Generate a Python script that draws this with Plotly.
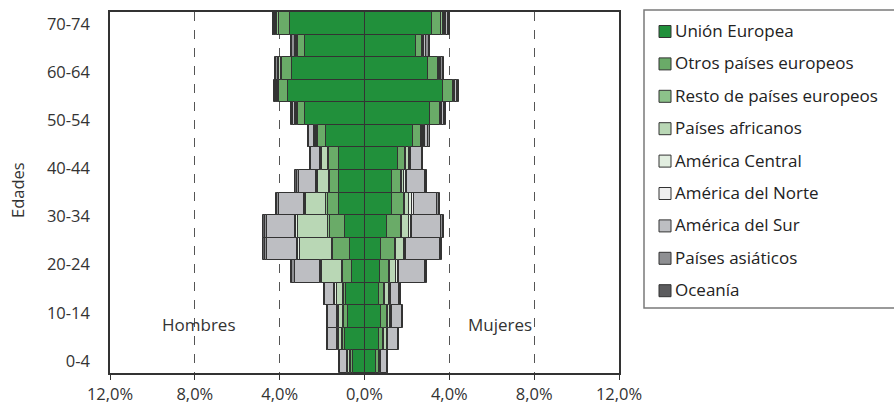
import plotly.graph_objects as go

# Age groups (bottom to top)
edades = ["0-4", "5-9", "10-14", "15-19", "20-24", "25-29", "30-34", "35-39",
          "40-44", "45-49", "50-54", "55-59", "60-64", "65-69", "70-74", "75 y más"]

origenes = ["Unión Europea", "Otros países europeos", "Resto de países europeos",
            "Países africanos", "América Central", "América del Norte",
            "América del Sur", "Países asiáticos", "Oceanía"]

colores = ["#21903b", "#6aab68", "#8cc28a", "#b9d7b5", "#e2eee0",
           "#efefef", "#bdbec2", "#8e8f92", "#5c5c5e"]

# Share of total population (%), men, by origin; one value per age group
hombres = {
    "Unión Europea":            [0.52, 0.91, 0.78, 0.85, 0.60, 0.68, 0.94, 1.22, 1.22, 1.22, 1.83, 2.82, 3.62, 3.43, 2.82, 3.52],
    "Otros países europeos":    [0.11, 0.12, 0.20, 0.12, 0.42, 0.81, 0.70, 0.52, 0.40, 0.44, 0.34, 0.31, 0.42, 0.45, 0.31, 0.52],
    "Resto de países europeos": [0.04, 0.04, 0.05, 0.05, 0.04, 0.04, 0.08, 0.06, 0.06, 0.04, 0.05, 0.05, 0.03, 0.05, 0.05, 0.10],
    "Países africanos":         [0.10, 0.12, 0.15, 0.28, 0.94, 1.53, 1.40, 0.95, 0.50, 0.32, 0.08, 0.05, 0.04, 0.08, 0.03, 0.05],
    "América Central":          [0.03, 0.05, 0.06, 0.08, 0.06, 0.06, 0.10, 0.05, 0.06, 0.04, 0.05, 0.02, 0.02, 0.02, 0.02, 0.02],
    "América del Norte":        [0.02, 0.04, 0.04, 0.06, 0.04, 0.04, 0.04, 0.04, 0.03, 0.02, 0.03, 0.02, 0.02, 0.02, 0.02, 0.02],
    "América del Sur":          [0.33, 0.42, 0.44, 0.40, 1.20, 1.45, 1.33, 1.17, 0.80, 0.42, 0.22, 0.10, 0.05, 0.05, 0.05, 0.05],
    "Países asiáticos":         [0.02, 0.05, 0.03, 0.05, 0.10, 0.10, 0.12, 0.10, 0.12, 0.05, 0.05, 0.06, 0.04, 0.05, 0.10, 0.03],
    "Oceanía":                  [0.01, 0.02, 0.02, 0.03, 0.06, 0.06, 0.06, 0.04, 0.07, 0.03, 0.03, 0.03, 0.04, 0.05, 0.05, 0.02],
}

# Share of total population (%), women, by origin
mujeres = {
    "Unión Europea":            [0.53, 0.69, 0.80, 0.69, 0.73, 0.80, 1.08, 1.31, 1.31, 1.59, 2.30, 3.11, 3.70, 3.00, 2.41, 3.19],
    "Otros países europeos":    [0.14, 0.20, 0.25, 0.23, 0.42, 0.64, 0.63, 0.55, 0.42, 0.34, 0.38, 0.44, 0.47, 0.45, 0.31, 0.42],
    "Resto de países europeos": [0.03, 0.04, 0.04, 0.04, 0.06, 0.06, 0.06, 0.05, 0.06, 0.05, 0.04, 0.04, 0.05, 0.05, 0.03, 0.10],
    "Países africanos":         [0.05, 0.12, 0.12, 0.20, 0.27, 0.34, 0.31, 0.20, 0.08, 0.12, 0.05, 0.04, 0.03, 0.03, 0.03, 0.05],
    "América Central":          [0.02, 0.04, 0.04, 0.04, 0.08, 0.08, 0.10, 0.12, 0.08, 0.06, 0.03, 0.02, 0.02, 0.02, 0.02, 0.05],
    "América del Norte":        [0.01, 0.03, 0.03, 0.03, 0.06, 0.06, 0.06, 0.10, 0.06, 0.04, 0.03, 0.02, 0.02, 0.02, 0.02, 0.05],
    "América del Sur":          [0.30, 0.45, 0.48, 0.42, 1.25, 1.56, 1.36, 1.10, 0.86, 0.50, 0.16, 0.08, 0.05, 0.06, 0.08, 0.08],
    "Países asiáticos":         [0.02, 0.02, 0.02, 0.03, 0.05, 0.06, 0.08, 0.10, 0.04, 0.05, 0.08, 0.06, 0.06, 0.06, 0.12, 0.05],
    "Oceanía":                  [0.01, 0.02, 0.02, 0.02, 0.03, 0.04, 0.05, 0.05, 0.04, 0.02, 0.04, 0.04, 0.04, 0.04, 0.06, 0.03],
}

# Age labels shown on the vertical axis (every other group, 15-slot scale)
etiquetas_edad = edades[:15:2]
x_ticks = [-12, -8, -4, 0, 4, 8, 12]

W, H = 894, 410
L, R, T, B = 110, 275, 12, 37
PW, PH = W - L - R, H - T - B


def px_x(p):
    return (p - L) / PW


def px_y(p):
    return (H - B - p) / PH


fig = go.Figure()
pos = list(range(len(edades)))
for nombre, color in zip(origenes, colores):
    fig.add_trace(go.Bar(
        y=pos, x=[-v for v in hombres[nombre]], orientation="h",
        marker=dict(color=color, line=dict(color="#333333", width=1)),
        name=nombre, showlegend=False, hoverinfo="skip"))
for nombre, color in zip(origenes, colores):
    fig.add_trace(go.Bar(
        y=pos, x=mujeres[nombre], orientation="h",
        marker=dict(color=color, line=dict(color="#333333", width=1)),
        name=nombre, showlegend=False, hoverinfo="skip"))

n_slots = 15
tickvals_y = [(edades.index(e) + 0.5) * len(edades) / n_slots - 0.5 for e in etiquetas_edad]

font = "Open Sans, DejaVu Sans, sans-serif"
tick_font = dict(family=font, size=16.5, color="#333333")

fig.update_layout(
    width=W, height=H,
    margin=dict(l=L, r=R, t=T, b=B, autoexpand=False),
    barmode="relative", bargap=0,
    plot_bgcolor="white", paper_bgcolor="white",
    font=dict(family=font, size=16, color="#333333"),
    xaxis=dict(
        range=[-12, 12], tickvals=x_ticks,
        ticktext=[f"{abs(v):.1f}%".replace(".", ",") for v in x_ticks],
        showgrid=True, gridcolor="#555555", griddash="dash", gridwidth=1,
        zeroline=False, showline=True, linecolor="#333333", linewidth=1.5,
        mirror=True, ticks="outside", ticklen=5, tickcolor="#333333",
        tickfont=tick_font, automargin=False,
    ),
    yaxis=dict(
        range=[-0.5, len(edades) - 0.5], tickvals=tickvals_y, ticktext=etiquetas_edad,
        showgrid=False, zeroline=False, showline=True, linecolor="#333333",
        linewidth=1.5, mirror=True, ticks="", ticklabelstandoff=15,
        tickfont=tick_font, automargin=False,
    ),
    showlegend=False,
)

annotations = [
    dict(text="Edades", xref="paper", yref="paper", x=px_x(18), y=px_y(190),
         textangle=-90, showarrow=False, font=dict(size=16.5, color="#333333"),
         xanchor="center", yanchor="middle"),
    dict(text="Hombres", xref="x", yref="y", x=-7.8, y=1.64, showarrow=False,
         font=dict(size=17, color="#333333")),
    dict(text="Mujeres", xref="x", yref="y", x=6.4, y=1.64, showarrow=False,
         font=dict(size=17, color="#333333")),
]

shapes = [
    dict(type="rect", xref="paper", yref="paper",
         x0=px_x(644), x1=px_x(905), y0=px_y(308), y1=px_y(10),
         line=dict(color="#7a7a7a", width=1.5), fillcolor="rgba(0,0,0,0)"),
]

# Legend entries
for i, (nombre, color) in enumerate(zip(origenes, colores)):
    cy = 31.5 + 32.4 * i
    shapes.append(dict(type="rect", xref="paper", yref="paper",
                       x0=px_x(659), x1=px_x(671), y0=px_y(cy + 6), y1=px_y(cy - 6),
                       line=dict(color="#333333", width=1), fillcolor=color))
    annotations.append(dict(text=nombre, xref="paper", yref="paper",
                            x=px_x(673), y=px_y(cy - 1), xanchor="left", yanchor="middle",
                            showarrow=False, font=dict(size=17, color="#222222")))

fig.update_layout(annotations=annotations, shapes=shapes)

fig.write_html("out.html")
